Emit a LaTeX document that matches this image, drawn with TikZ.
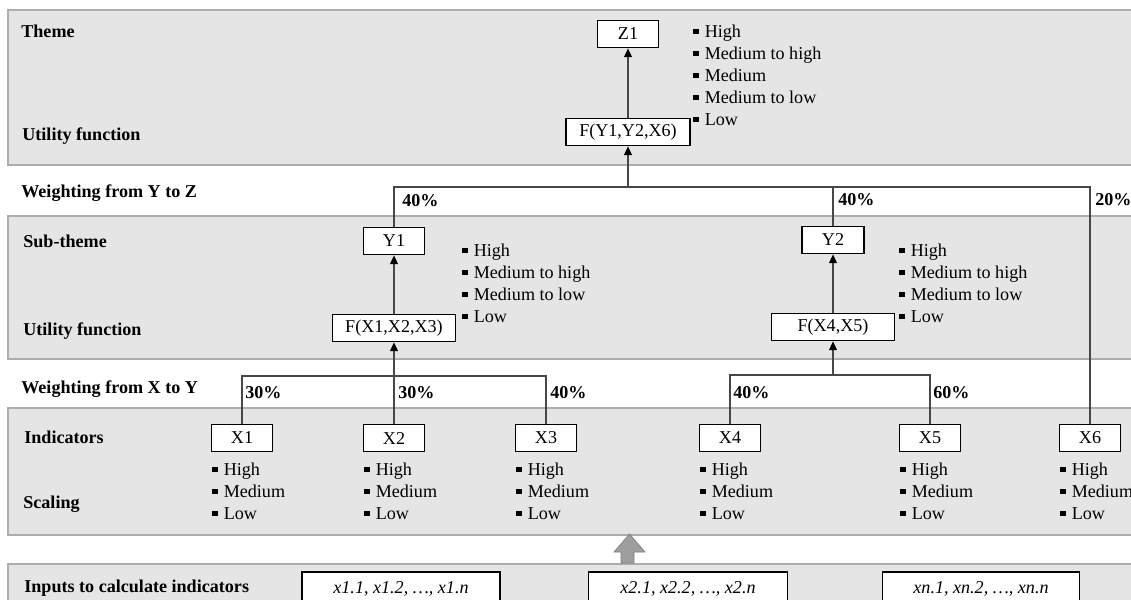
\documentclass[tikz,border=0pt]{standalone}
\usepackage{fontspec}
\setmainfont{Liberation Serif}
\usetikzlibrary{arrows.meta}
\colorlet{bandx}{black!10}
\colorlet{edgex}{black!32}
\colorlet{linex}{black!72}
\colorlet{bigx}{black!38}
\newcommand{\sqb}{\raisebox{0.16em}{\rule{0.3em}{0.3em}}\hspace{0.33em}}

\begin{document}
\begin{tikzpicture}[x=0.02cm,y=-0.02cm,
        every node/.style={font=\fontsize{10.3}{12.5}\selectfont},
        band/.style={fill=bandx,draw=edgex,line width=0.8pt},
        box/.style={draw,fill=white,line width=1pt,minimum height=0.54cm,inner sep=0pt},
        head/.style={font=\fontsize{10.3}{12.5}\selectfont\bfseries,anchor=base west,inner sep=0pt},
        pct/.style={head},
        levels/.style={align=left,anchor=base west,inner sep=0pt},
        link/.style={draw=linex,line width=0.7pt},
        arr/.style={link,-{Triangle[length=5pt,width=4.5pt,color=black]}}
    ]
        \clip (0,0) rectangle (1131,599);

        % bands
        \draw[band] (8,10) rectangle (1145,165);
        \draw[band] (8,216) rectangle (1145,359);
        \draw[band] (8,408) rectangle (1145,535);
        \draw[band] (8,564) rectangle (1145,640);

        % row titles
        \node[head] (theme) at (21,37) {Theme};
        \node[head] (ufz) at (22,140) {Utility function};
        \node[head] (wyz) at (21,197) {Weighting from Y to Z};
        \node[head] (subth) at (23,247) {Sub-theme};
        \node[head] (ufy) at (23,335) {Utility function};
        \node[head] (wxy) at (21,393) {Weighting from X to Y};
        \node[head] (indic) at (24,443) {Indicators};
        \node[head] (scal) at (23,508) {Scaling};
        \node[head] (inp) at (24,592) {Inputs to calculate indicators};

        % theme (base anchor sits on the last line)
        \node[box,minimum width=1.22cm] (z1) at (628,34) {Z1};
        \node[box,minimum width=2.48cm] (fz) at (628,132) {F(Y1,Y2,X6)};
        \node[levels] (lz) at (693,125) {\sqb High\\\sqb Medium to high\\\sqb Medium\\\sqb Medium to low\\\sqb Low};

        % sub-themes
        \node[box,minimum width=1.22cm] (y1) at (394,241) {Y1};
        \node[box,minimum width=2.46cm] (fy1) at (394,328) {F(X1,X2,X3)};
        \node[levels] (ly1) at (462,322) {\sqb High\\\sqb Medium to high\\\sqb Medium to low\\\sqb Low};
        \node[box,minimum width=1.24cm] (y2) at (833,240) {Y2};
        \node[box,minimum width=2.46cm] (fy2) at (833,327) {F(X4,X5)};
        \node[levels] (ly2) at (899,322) {\sqb High\\\sqb Medium to high\\\sqb Medium to low\\\sqb Low};

        % indicators
        \foreach \n/\x in {1/242,2/394,3/546,4/730,5/930,6/1090} {
            \node[box,minimum width=1.22cm] (x\n) at (\x,438) {X\n};
            \node[levels] (lx\n) at (\x-30,519) {\sqb High\\\sqb Medium\\\sqb Low};
        }

        % inputs
        \node[box,minimum width=3.96cm,minimum height=0.68cm] (in1) at (401,589) {\textit{x1.1, x1.2, \dots, x1.n}};
        \node[box,minimum width=3.98cm,minimum height=0.68cm] (in2) at (688,589) {\textit{x2.1, x2.2, \dots, x2.n}};
        \node[box,minimum width=3.94cm,minimum height=0.68cm] (in3) at (981,589) {\textit{xn.1, xn.2, \dots, xn.n}};
        \filldraw[fill=bigx,draw=black!50,line width=0.4pt]
            (621,563) -- (621,552) -- (614,552) -- (629.5,534) -- (645,552) -- (634,552) -- (634,563) -- cycle;

        % weighting Y to Z
        \coordinate (kz) at (628,187);
        \draw[link] (y1.north) |- (kz) -| (x6.north);
        \draw[link] (y2.north) -- (y2.north |- kz);
        \draw[arr] (kz) -- (fz.south);
        \draw[arr] (fz) -- (z1);
        \node[pct] (pz1) at (402,206) {40\%};
        \node[pct] (pz2) at (838,205) {40\%};
        \node[pct] (pz3) at (1095,205) {20\%};

        % weighting X to Y
        \coordinate (ky1) at (394,376);
        \coordinate (ky2) at (833,375);
        \draw[link] (x1.north) |- (ky1) -| (x3.north);
        \draw[link] (x2.north) -- (ky1);
        \draw[link] (x4.north) |- (ky2) -| (x5.north);
        \draw[arr] (ky1) -- (fy1.south);
        \draw[arr] (ky2) -- (fy2.south);
        \draw[arr] (fy1) -- (y1);
        \draw[arr] (fy2) -- (y2);
        \node[pct] (px1) at (245,398) {30\%};
        \node[pct] (px2) at (398,398) {30\%};
        \node[pct] (px3) at (550,398) {40\%};
        \node[pct] (px4) at (733,398) {40\%};
        \node[pct] (px5) at (933,398) {60\%};
    \end{tikzpicture}
\end{document}
